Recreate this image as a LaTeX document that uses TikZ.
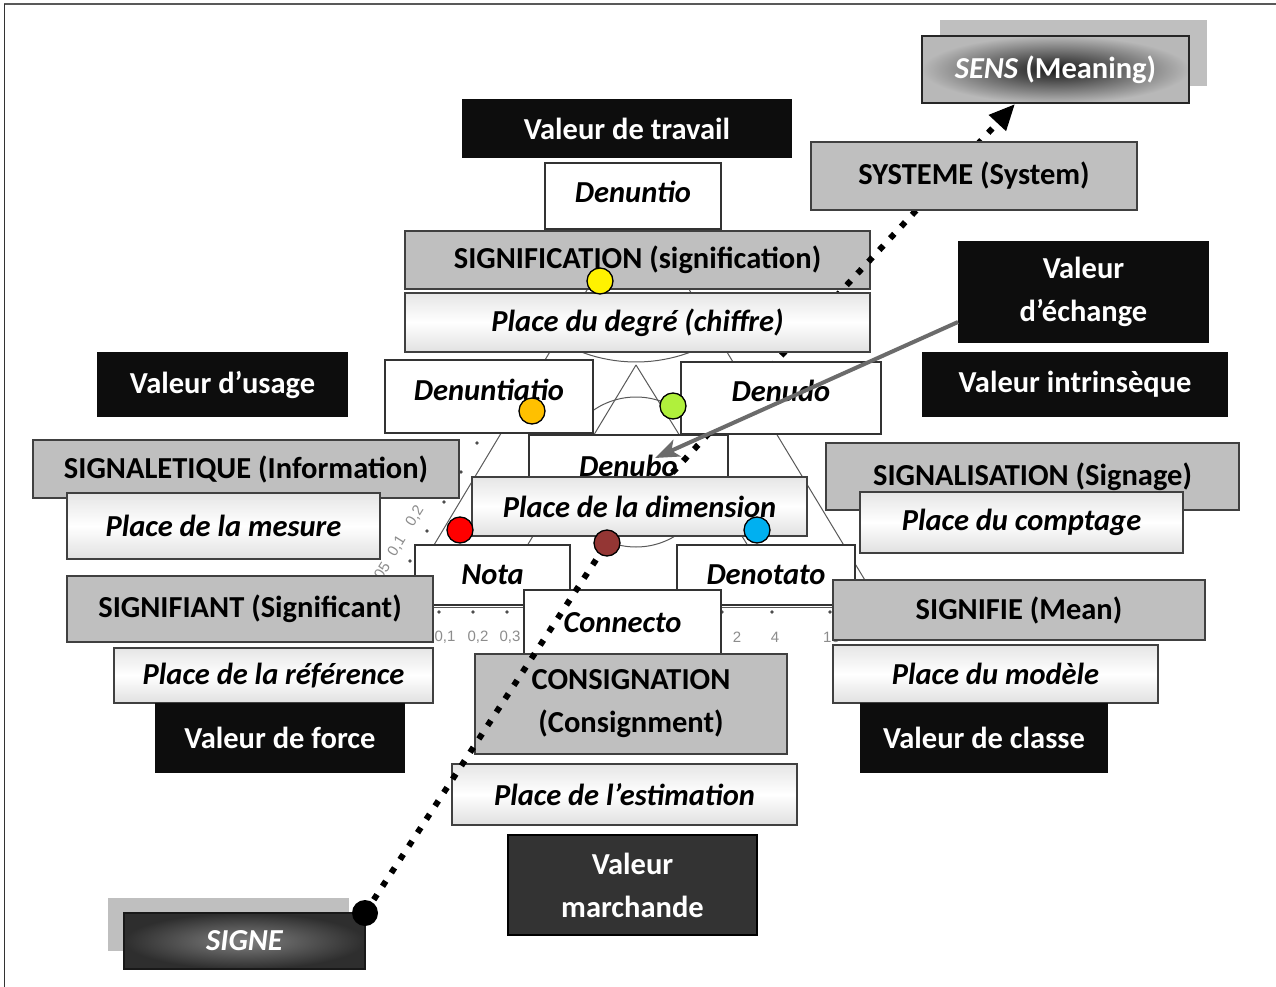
\documentclass[tikz,border=0pt]{standalone}
\usepackage{fontspec}
\setmainfont{Carlito}
\newfontfamily\numf{Liberation Sans}
\usetikzlibrary{arrows.meta,calc}
\definecolor{cOrange}{RGB}{255,192,0}
\definecolor{cLime}{RGB}{176,240,60}
\definecolor{cBrown}{RGB}{148,54,52}
\definecolor{cCyan}{RGB}{0,176,240}
\newcommand{\dgb}{\fontsize{30.5}{43}\selectfont\bfseries}
\newcommand{\dgi}{\fontsize{30.5}{43}\selectfont\bfseries\itshape}
\newcommand{\bx}[7]{\node[#1, minimum width={(#5-#3)*1pt}, minimum height={(#6-#4)*1pt}] (#2) at ({(#3+#5)/2},{(#4+#6)/2}) {#7};}
\begin{document}
\begin{tikzpicture}[x=1pt,y=-1pt,
  base/.style={inner sep=0pt, outer sep=0pt, align=center, line width=1.3pt, font=\dgb},
  blk/.style={base, fill=black!95, text=white},
  mar/.style={base, fill=black!80, draw=black, text=white},
  gry/.style={base, fill=black!25, draw=black!75},
  wht/.style={base, fill=white, draw=black!80, font=\dgi},
  lgt/.style={base, draw=black!75, top color=black!10, bottom color=black!12, middle color=white, font=\dgi},
  shd/.style={inner sep=0pt, outer sep=0pt, fill=black!25},
  bgline/.style={draw=black!65, line width=1pt},
  dotline/.style={line width=6pt, dash pattern=on 6pt off 10pt, black},
  dot/.style={circle, draw=black, line width=1.3pt, minimum size=26pt, inner sep=0pt},
  scl/.style={text=black!45, font=\numf\fontsize{15}{18}\selectfont, inner sep=0pt}
]
\useasboundingbox (0,0) rectangle (1276,987);
\fill[white] (0,0) rectangle (1276,987);
\draw[black!65, line width=2.5pt] (4,4) -- (1276,4);
\draw[black!80, line width=1pt] (4,4) -- (4,987);

% background figure
\draw[bgline] (638,205) -- (398,605);
\draw[bgline] (638,205) -- (880,605);
\draw[bgline] (636,365) -- (492,604);
\draw[bgline] (636,365) -- (784,604);
\draw[bgline] (636,472) circle[radius=75];
\draw[bgline] plot[domain=-33:33, samples=30] ({636+155*sin(\x)},{207+155*cos(\x)});
\draw[bgline] (398,603) -- (880,603);
\draw[bgline, line width=0.8pt] (398,607) -- (880,607);
\foreach \x in {439,473,507,722,772,830} \fill[black!70] (\x,612) circle[radius=1.8];
\foreach \x/\y in {477/443,461/472,444/502,427/531,410/561} \fill[black!70] (\x,\y) circle[radius=1.8];
\node[scl] (l1) at (445,637) {0,1};
\node[scl] (l2) at (478,637) {0,2};
\node[scl] (l3) at (510,637) {0,3};
\node[scl] (l4) at (737,637) {2};
\node[scl] (l5) at (775,637) {4};
\node[scl, anchor=west] (l6) at (823,637) {10};
\node[scl, rotate=58] (r1) at (415,516) {0,2};
\node[scl, rotate=58] (r2) at (397,546) {0,1};
\node[scl, rotate=58] (r3) at (382,571) {05};

% lower boxes
\bx{blk}{vtravail}{462}{99}{792}{158}{Valeur de travail}
\bx{wht, text height=21pt, text depth=7pt}{denuntio}{545}{163}{721}{229}{Denuntio}
\bx{gry}{signification}{405}{231}{870}{289}{SIGNIFICATION (signification)}
\bx{blk}{vechange}{958}{241}{1209}{343}{Valeur\\d’échange}
\bx{blk}{vintr}{922}{352}{1228}{417}{Valeur intrinsèque}
\bx{blk}{vusage}{97}{352}{348}{417}{Valeur d’usage}
\bx{wht, text height=21pt, text depth=14pt}{denuntiatio}{385}{360}{593}{433}{Denuntiatio}
\bx{wht}{denubo}{529}{435}{728}{497}{Denubo}
\bx{gry}{signaletique}{33}{440}{459}{498}{SIGNALETIQUE (Information)}
\bx{lgt}{pmesure}{67}{493}{380}{559}{Place de la mesure}
\bx{gry}{signalisation}{826}{443}{1239}{510}{SIGNALISATION (Signage)}
\bx{lgt}{pcomptage}{860}{492}{1183}{553}{Place du comptage}
\bx{wht}{nota}{415}{545}{570}{605}{Nota}
\bx{wht}{denotato}{677}{545}{855}{605}{Denotato}
\bx{wht}{connecto}{524}{590}{721}{655}{Connecto}
\bx{gry}{signifiant}{67}{576}{433}{642}{SIGNIFIANT (Significant)}
\bx{gry}{signifie}{833}{580}{1205}{640}{SIGNIFIE (Mean)}
\bx{lgt}{preference}{114}{648}{433}{703}{Place de la référence}
\bx{lgt}{pmodele}{833}{645}{1158}{703}{Place du modèle}
\bx{gry}{consignation}{475}{654}{787}{754}{CONSIGNATION\\(Consignment)}
\bx{blk}{vforce}{155}{703}{405}{773}{Valeur de force}
\bx{blk}{vclasse}{860}{703}{1108}{773}{Valeur de classe}
\bx{lgt}{pestimation}{452}{764}{797}{825}{Place de l’estimation}
\bx{mar}{vmarchande}{508}{835}{757}{935}{Valeur\\marchande}
\bx{shd}{sensshadow}{940}{20}{1207}{86}{}
\bx{base, draw=black!85, inner color=black!90, outer color=black!28, text=white}{sens}{922}{36}{1189}{103}{\textit{SENS} (Meaning)}
\bx{shd}{signeshadow}{108}{898}{349}{951}{}
\bx{base, draw=black!90, inner color=black!50, outer color=black!82, text=white, font=\dgi}{signe}{124}{913}{365}{969}{SIGNE}

% dotted connector, upper part (behind some boxes)
\coordinate (pBrown) at (607,543);
\coordinate (sensTip) at (1015,104);
\draw[dotline, -{Triangle[length=26pt,width=22pt]}] (pBrown) -- (sensTip);

% upper boxes
\bx{gry}{systeme}{811}{142}{1137}{210}{SYSTEME (System)}
\bx{lgt}{pdegre}{405}{293}{870}{352}{Place du degré (chiffre)}
\bx{wht, text height=21pt, text depth=14pt}{denudo}{681}{362}{881}{434}{Denudo}
\bx{lgt}{pdimension}{472}{477}{807}{536}{Place de la dimension}

% grey arrow
\coordinate (tipA) at (655,458);
\draw[draw=black!58, line width=4pt, -{Stealth[length=24pt,width=18pt,inset=6pt]}] ([yshift=-30pt]vechange.west) -- (tipA);

% dotted connector, lower part
\draw[dotline] (signe.north east) -- (pBrown);
\node[circle, fill=black, minimum size=26pt, inner sep=0pt] (startdot) at (signe.north east) {};

% coloured dots
\node[dot, fill=yellow] (cy) at (600,281) {};
\node[dot, fill=cOrange] (co) at (532,411) {};
\node[dot, fill=cLime] (cl) at (673,406) {};
\node[dot, fill=red] (cr) at (460,530) {};
\node[dot, fill=cBrown] (cb) at (pBrown) {};
\node[dot, fill=cCyan] (cc) at (757,530) {};
\end{tikzpicture}
\end{document}
